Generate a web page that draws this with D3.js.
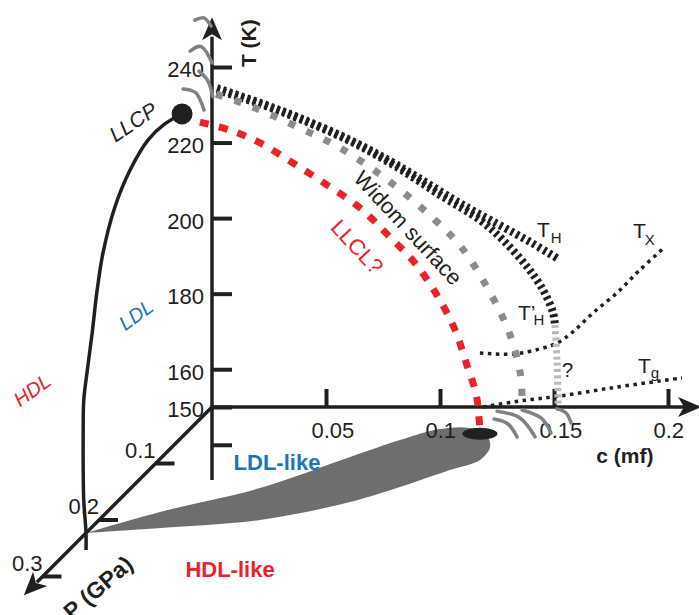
<!DOCTYPE html>
<html>
<head>
<meta charset="utf-8">
<script src="https://cdn.jsdelivr.net/npm/d3@7"></script>
<style>
  body { margin: 0; background: #fff; }
  svg { display: block; font-family: "Liberation Sans", Arial, Helvetica, sans-serif; }
</style>
</head>
<body>
<div id="chart"></div>
<script>
// svg size
var width = 699,
    height = 615;

// axis ticks
var tTicks = [140, 150, 160, 180, 200, 220, 240];
var tLabels = [150, 160, 180, 200, 220, 240];
var cTicks = [0.05, 0.1, 0.15, 0.2];
var pTicks = [0.1, 0.2, 0.3];

// liquid-liquid critical point (c, T, P)
var llcp = [0, 235.5, 0.053];

// LLCP line in the P-T plane (c = 0)
var coexP = [0.053, 0.083, 0.113, 0.145, 0.172, 0.193, 0.204, 0.212, 0.220, 0.227, 0.228, 0.228, 0.227, 0.223, 0.223];
var coexT = [235.5, 237.4, 237.6, 234.4, 228.6, 219.6, 210.6, 201.4, 193.4, 185.7, 177.3, 168.3, 159.3, 150.0, 145.5];

// curves in the c-T plane (P = 0)
var llclC = [-0.0053, 0.0079, 0.0211, 0.0355, 0.0504, 0.0649, 0.0772, 0.089, 0.0987, 0.1066, 0.1118, 0.1154, 0.1167, 0.1175];
var llclT = [225.4, 223.3, 219.9, 214.6, 208.8, 202.7, 195.5, 188.1, 179.6, 170.4, 161.1, 154.5, 150.0, 143.4];

var widomC = [0.0018, 0.0167, 0.0386, 0.0561, 0.0781, 0.0969, 0.1096, 0.1232, 0.1307, 0.1351, 0.136];
var widomT = [232.8, 229.7, 223.8, 218.6, 209.6, 200.0, 192.1, 178.9, 169.1, 159.3, 152.6];

var thC = [0.0022, 0.0211, 0.0386, 0.0605, 0.0811, 0.1101, 0.1395, 0.1513];
var thT = [234.4, 230.5, 226.5, 220.7, 214.1, 203.5, 193.7, 189.4];

var thpC = [0.0022, 0.0211, 0.0386, 0.0605, 0.0811, 0.1, 0.1175, 0.1276, 0.1382, 0.1452, 0.1496, 0.1504];
var thpT = [233.9, 230.2, 226.2, 220.4, 213.5, 206.1, 199.5, 194.2, 187.1, 181.0, 174.9, 171.7];
var thqC = [0.1504, 0.1513, 0.1518];
var thqT = [171.7, 162.4, 150.5];

var txC = [0.1175, 0.132, 0.1439, 0.1513, 0.1583, 0.1671, 0.1776, 0.1877, 0.1987];
var txT = [164.3, 164.0, 165.4, 166.9, 169.9, 174.9, 180.2, 186.3, 192.4];

var tgC = [0.1189, 0.1351, 0.1526, 0.1746, 0.1965, 0.2061];
var tgT = [150, 151.6, 152.9, 155.0, 156.9, 157.7];

// shaded region on the c-P floor (T = 150)
var blobC = [0, 0.0232, 0.0566, 0.0825, 0.0969, 0.1096, 0.1224, 0.1333, 0.1395, 0.1408, 0.132, 0.1175, 0.1022, 0.0706, 0.0303, 0];
var blobP = [0.223, 0.1858, 0.1434, 0.0885, 0.0584, 0.0389, 0.0372, 0.0513, 0.0708, 0.0938, 0.1115, 0.1416, 0.1681, 0.2, 0.2142, 0.223];

// end point of the LLCL (c, T)
var endPoint = [0.1175, 142.9];

// fluctuation arcs, [c, T] triples
var arcsTop = [
  [[-0.0075, 252.4], [-0.0035, 253.0], [-0.0004, 250.8]],
  [[-0.0096, 244.2], [-0.0044, 245.3], [0, 241.1]],
  [[-0.0057, 238.9], [-0.0018, 236.3], [0.0004, 232.1]],
  [[-0.0127, 234.2], [-0.007, 233.1], [-0.0035, 228.6]]
];
var arcsBottom = [
  [[0.1237, 146.8], [0.1298, 145.5], [0.1338, 142.1]],
  [[0.125, 148.9], [0.1351, 147.1], [0.1417, 142.1]],
  [[0.136, 149.2], [0.1443, 147.1], [0.1487, 143.1]],
  [[0.1513, 149.5], [0.1553, 148.4], [0.1575, 145.8]]
];

var ink = "#231f20", red = "#e8232a", blue = "#1c75bc";

// projection of (c, T, P)
var cScale = d3.scaleLinear().domain([0, 0.2]).range([212, 668]);
var tScale = d3.scaleLinear().domain([150, 240]).range([407, 67]);
var pxScale = d3.scaleLinear().domain([0, 0.3]).range([0, -169.5]);
var pyScale = d3.scaleLinear().domain([0, 0.3]).range([0, 169.5]);

function proj(c, t, p) {
    return [cScale(c) + pxScale(p), tScale(t) + pyScale(p)];
}

var svg = d3.select("#chart").append("svg")
    .attr("width", width)
    .attr("height", height);

var lineGen = d3.line().x(d => d[0]).y(d => d[1]).curve(d3.curveCatmullRom);

function ctPath(cs, ts) {
    return lineGen(cs.map((c, i) => proj(c, ts[i], 0)));
}

// shaded floor region
var blobPts = blobC.map((c, i) => proj(c, 150, blobP[i]));
svg.append("path")
    .attr("d", lineGen(blobPts) + "Z")
    .attr("fill", "#6d6e70");

// arrowhead
function arrow(pt, angle) {
    svg.append("path")
        .attr("d", "M0,0L-23,-10L-17,0L-23,10Z")
        .attr("transform", "translate(" + pt + ") rotate(" + angle + ")")
        .attr("fill", ink);
}

// P axis
var pEnd = proj(0, 150, 0.333);
var pBase = proj(0, 150, 0.31);
svg.append("line")
    .attr("x1", cScale(0)).attr("y1", tScale(150))
    .attr("x2", pBase[0]).attr("y2", pBase[1])
    .attr("stroke", ink).attr("stroke-width", 3.5);
arrow(pEnd, 135);
pTicks.forEach(function(p) {
    var pt = proj(0, 150, p);
    svg.append("line")
        .attr("x1", pt[0]).attr("y1", pt[1])
        .attr("x2", pt[0] + 19).attr("y2", pt[1])
        .attr("stroke", ink).attr("stroke-width", 4);
    svg.append("text")
        .attr("x", pt[0]).attr("y", pt[1] - 6)
        .attr("text-anchor", "end")
        .attr("font-size", 22).attr("fill", ink)
        .text(p);
});
var pLab = proj(0, 150, 0.3);
svg.append("text")
    .attr("transform", "translate(" + (pLab[0] + 92) + "," + (pLab[1] - 10) + ") rotate(-41)")
    .attr("text-anchor", "end")
    .attr("font-size", 23).attr("font-weight", "bold").attr("fill", ink)
    .text("P (GPa)");

// T axis
svg.append("line")
    .attr("x1", cScale(0)).attr("y1", tScale(130.7))
    .attr("x2", cScale(0)).attr("y2", tScale(248))
    .attr("stroke", ink).attr("stroke-width", 3.5);
arrow([cScale(0), tScale(253.2)], -90);

var tAxis = svg.append("g")
    .attr("transform", "translate(" + cScale(0) + ",0)")
    .call(d3.axisLeft(tScale).tickValues(tTicks).tickSize(-20).tickPadding(8)
        .tickFormat(d => tLabels.indexOf(d) >= 0 ? d : ""));
tAxis.select(".domain").remove();
tAxis.selectAll("line").attr("stroke", ink).attr("stroke-width", 4);
tAxis.selectAll("text").attr("font-size", 22).attr("fill", ink).attr("dy", "0.45em")
    .attr("font-family", null);

svg.append("text")
    .attr("transform", "translate(" + (cScale(0.0162) + 7) + "," + tScale(246.3) + ") rotate(-90)")
    .attr("text-anchor", "middle")
    .attr("font-size", 21).attr("font-weight", "bold").attr("fill", ink)
    .text("T (K)");

// c axis
svg.append("line")
    .attr("x1", cScale(0)).attr("y1", tScale(150))
    .attr("x2", cScale(0.208)).attr("y2", tScale(150))
    .attr("stroke", ink).attr("stroke-width", 3.5);
arrow([cScale(0.2145), tScale(150)], 0);

var cAxis = svg.append("g")
    .attr("transform", "translate(0," + tScale(150) + ")")
    .call(d3.axisBottom(cScale).tickValues(cTicks).tickSize(-18).tickPadding(15)
        .tickFormat(d => String(d)));
cAxis.select(".domain").remove();
cAxis.selectAll("line").attr("stroke", ink).attr("stroke-width", 4);
cAxis.selectAll("text").attr("font-size", 22).attr("fill", ink)
    .attr("text-anchor", "start").attr("dx", -15).attr("font-family", null);

svg.append("text")
    .attr("x", cScale(0.1811)).attr("y", tScale(135.2))
    .attr("text-anchor", "middle")
    .attr("font-size", 21).attr("font-weight", "bold").attr("fill", ink)
    .text("c (mf)");

// fluctuation arcs
var arcGen = d3.line().x(d => d[0]).y(d => d[1]).curve(d3.curveNatural);
arcsTop.concat(arcsBottom).forEach(function(a) {
    svg.append("path")
        .attr("d", arcGen(a.map(d => proj(d[0], d[1], 0))))
        .attr("fill", "none")
        .attr("stroke", "#808285")
        .attr("stroke-width", 3.5)
        .attr("stroke-linecap", "round");
});

// LLCP line
svg.append("path")
    .attr("d", lineGen(coexP.map((p, i) => proj(0, coexT[i], p))))
    .attr("fill", "none").attr("stroke", ink).attr("stroke-width", 3.5);

// T_X and T_g
[[txC, txT], [tgC, tgT]].forEach(function(s) {
    svg.append("path")
        .attr("d", ctPath(s[0], s[1]))
        .attr("fill", "none").attr("stroke", ink)
        .attr("stroke-width", 3.5).attr("stroke-dasharray", "3.5,4.5");
});

// T_H and T'_H
svg.append("path")
    .attr("d", ctPath(thqC, thqT))
    .attr("fill", "none").attr("stroke", "#b8b9bb")
    .attr("stroke-width", 7).attr("stroke-dasharray", "3,3.3");
[[thC, thT], [thpC, thpT]].forEach(function(s) {
    svg.append("path")
        .attr("d", ctPath(s[0], s[1]))
        .attr("fill", "none").attr("stroke", ink)
        .attr("stroke-width", 8).attr("stroke-dasharray", "3,3.3");
});

// Widom surface
svg.append("path")
    .attr("d", ctPath(widomC, widomT))
    .attr("fill", "none").attr("stroke", "#8a8c8e")
    .attr("stroke-width", 7).attr("stroke-dasharray", "7,12.5");

// LLCL
svg.append("path")
    .attr("d", ctPath(llclC, llclT))
    .attr("fill", "none").attr("stroke", red)
    .attr("stroke-width", 7).attr("stroke-dasharray", "9,10.5");

// critical points
var llcpPt = proj(llcp[0], llcp[1], llcp[2]);
svg.append("circle")
    .attr("cx", llcpPt[0]).attr("cy", llcpPt[1]).attr("r", 10.5)
    .attr("fill", ink);
var endPt = proj(endPoint[0], endPoint[1], 0);
svg.append("ellipse")
    .attr("cx", endPt[0]).attr("cy", endPt[1]).attr("rx", 17.5).attr("ry", 6)
    .attr("fill", ink);

// labels
function label(pt, txt, opts) {
    var t = svg.append("text")
        .attr("transform", "translate(" + pt + ") rotate(" + (opts.rot || 0) + ")")
        .attr("text-anchor", opts.anchor || "middle")
        .attr("dominant-baseline", opts.baseline || "central")
        .attr("font-size", opts.size || 21)
        .attr("font-style", opts.italic ? "italic" : null)
        .attr("font-weight", opts.bold ? "bold" : null)
        .attr("fill", opts.color || ink)
        .text(txt);
    return t;
}

label([llcpPt[0] - 49, llcpPt[1] + 8], "LLCP", {rot: -34, italic: true, size: 21});
label(proj(-0.0333, 174.4, 0), "LDL", {rot: -36, italic: true, size: 20, color: blue});
label(proj(-0.0789, 154.5, 0), "HDL", {rot: -36, italic: true, size: 20, color: red});
label(proj(0.0285, 135.4, 0), "LDL-like", {bold: true, size: 22, color: blue});
label(proj(0.0079, 107.1, 0), "HDL-like", {bold: true, size: 22, color: red});
label(proj(0.0636, 192.4, 0), "LLCL?", {rot: 47, size: 22, color: red});
label(proj(0.086, 197.4, 0), "Widom surface", {rot: 47, size: 22});

function tempLabel(pt, main, sub, subDx, subDy) {
    var t = svg.append("text")
        .attr("x", pt[0]).attr("y", pt[1])
        .attr("font-size", 21).attr("fill", ink);
    t.append("tspan").text(main);
    t.append("tspan").attr("dx", subDx).attr("dy", subDy).attr("font-size", 15).text(sub);
}
tempLabel(proj(0.1425, 195.0, 0), "T", "H", 1, 6);
tempLabel(proj(0.1342, 173.0, 0), "T\u2019", "H", -2, 5);
tempLabel(proj(0.1846, 194.7, 0), "T", "X", -1, 7);
tempLabel(proj(0.1868, 159.0, 0), "T", "g", 0, 5);

svg.append("text")
    .attr("x", cScale(0.1535)).attr("y", tScale(157.9))
    .attr("font-size", 20).attr("fill", ink)
    .text("?");
</script>
</body>
</html>
